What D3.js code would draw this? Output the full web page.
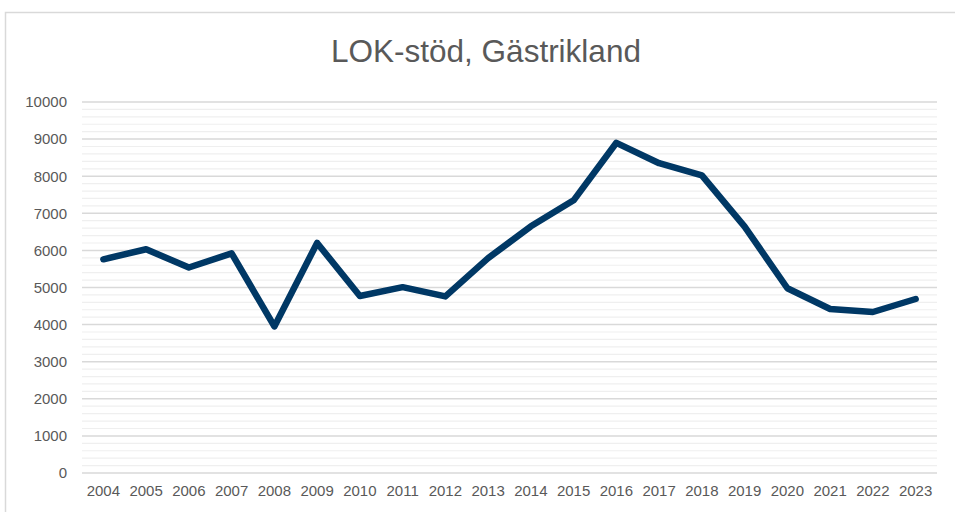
<!DOCTYPE html>
<html>
<head>
<meta charset="utf-8">
<script src="https://cdn.jsdelivr.net/npm/d3@7"></script>
<style>
  body { margin: 0; background: #fff; }
  svg { display: block; font-family: "Liberation Sans", Arial, sans-serif; }
</style>
</head>
<body>
<svg width="955" height="512"></svg>
<script>
const title = 'LOK-stöd, Gästrikland';
const years = ['2004', '2005', '2006', '2007', '2008', '2009', '2010', '2011', '2012', '2013',
  '2014', '2015', '2016', '2017', '2018', '2019', '2020', '2021', '2022', '2023'];
const values = [5760, 6030, 5540, 5920, 3950, 6200, 4770, 5010, 4760, 5790,
  6650, 7350, 8900, 8350, 8020, 6640, 4980, 4420, 4340, 4690];
const yTicks = [0, 1000, 2000, 3000, 4000, 5000, 6000, 7000, 8000, 9000, 10000];
const minorTicks = d3.range(0, 10001, 200);

const margin = { top: 102, right: 18, bottom: 39, left: 82 };
const width = 955 - margin.left - margin.right;
const height = 473 - margin.top;

const svg = d3.select('svg');

// chart frame
svg.append('path')
  .attr('d', 'M5.5,520 L5.5,12.5 L960,12.5')
  .attr('fill', 'none')
  .attr('stroke', '#d9d9d9')
  .attr('stroke-width', 1.5);

svg.append('text')
  .attr('x', 486)
  .attr('y', 62)
  .attr('text-anchor', 'middle')
  .style('font-size', '31.5px')
  .style('fill', '#595959')
  .text(title);

const container = svg.append('g')
  .attr('transform', `translate(${margin.left},${margin.top})`);

const xScale = d3.scaleBand()
  .domain(years)
  .range([0, width]);

const yScale = d3.scaleLinear()
  .domain([0, 10000])
  .range([height, 0]);

// minor grid
container.selectAll('line.minor-grid')
  .data(minorTicks.filter(d => d % 1000 !== 0))
  .enter()
  .append('line')
  .attr('class', 'minor-grid')
  .attr('x1', 0)
  .attr('x2', width)
  .attr('y1', d => yScale(d))
  .attr('y2', d => yScale(d))
  .style('stroke', '#efefef')
  .style('stroke-width', 1.2);

// major grid
container.selectAll('line.major-grid')
  .data(yTicks)
  .enter()
  .append('line')
  .attr('class', 'major-grid')
  .attr('x1', 0)
  .attr('x2', width)
  .attr('y1', d => yScale(d))
  .attr('y2', d => yScale(d))
  .style('stroke', '#d9d9d9')
  .style('stroke-width', 1.5);

// y axis
const yAxis = d3.axisLeft(yScale)
  .tickValues(yTicks)
  .tickFormat(d3.format('d'))
  .tickSize(0)
  .tickPadding(15);
container.append('g')
  .call(yAxis)
  .call(g => g.select('.domain').remove())
  .selectAll('text')
  .style('font-size', '15px')
  .style('font-family', '"Liberation Sans", Arial, sans-serif')
  .style('fill', '#595959');

// x axis
const xAxis = d3.axisBottom(xScale)
  .tickSize(0)
  .tickPadding(12);
container.append('g')
  .attr('transform', `translate(0,${height})`)
  .call(xAxis)
  .call(g => g.select('.domain').remove())
  .selectAll('text')
  .style('font-size', '15px')
  .style('font-family', '"Liberation Sans", Arial, sans-serif')
  .style('fill', '#595959');

// line
const line = d3.line()
  .x((d, i) => xScale(years[i]) + xScale.bandwidth() / 2)
  .y(d => yScale(d));

container.append('path')
  .datum(values)
  .attr('d', line)
  .attr('fill', 'none')
  .attr('stroke', '#003865')
  .attr('stroke-width', 6.5)
  .attr('stroke-linejoin', 'round')
  .attr('stroke-linecap', 'round');
</script>
</body>
</html>
